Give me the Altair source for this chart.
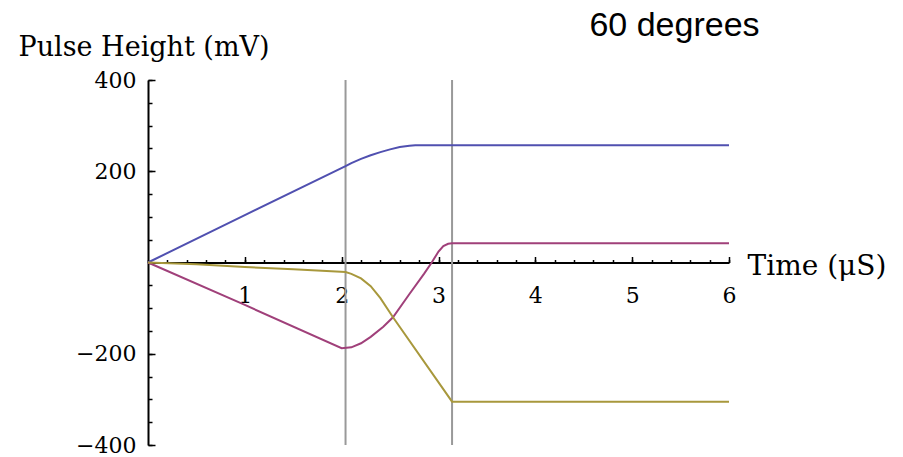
import altair as alt
import pandas as pd

# Pulse height traces (mV) against time (microseconds)
blue_t = [0, 1.0, 2.04, 2.1, 2.2, 2.3, 2.4, 2.5, 2.6, 2.7, 2.76, 3.14, 6.0]
blue_v = [0, 104, 211, 218, 227, 235, 242, 248, 253, 256, 257, 257, 257]

purple_t = [0, 1.0, 2.0, 2.1, 2.2, 2.3, 2.43, 2.53, 2.7, 2.85, 2.93, 3.0, 3.05, 3.1, 3.14, 6.0]
purple_v = [0, -93, -188, -186, -177, -163, -141, -120, -69, -25, 0, 24, 36, 41, 42, 42]

olive_t = [0, 0.5, 1.0, 1.5, 2.04, 2.1, 2.2, 2.3, 2.4, 2.53, 3.14, 6.0]
olive_v = [0, -4, -10, -15, -21, -25, -35, -52, -78, -120, -305, -305]

# Gate markers
marker_t = [2.04, 3.14]

series_names = ["A", "B", "C"]
series_colors = ["#5050b0", "#a0407a", "#a8983c"]

x_major = [1, 2, 3, 4, 5, 6]
x_minor = [round(i * 0.2, 1) for i in range(31)]
y_major = [-400, -200, 200, 400]
y_minor = list(range(-400, 401, 50))

W, H = 581, 365
serif = "DejaVu Serif"

rows = []
for name, ts, vs in zip(series_names, [blue_t, purple_t, olive_t], [blue_v, purple_v, olive_v]):
    for t, v in zip(ts, vs):
        rows.append({"series": name, "t": t, "v": v})
df = pd.DataFrame(rows)

markers = pd.DataFrame({"t": marker_t, "lo": [-400] * len(marker_t), "hi": [400] * len(marker_t)})

xscale = alt.Scale(domain=[0, 6], nice=False, zero=False)
yscale = alt.Scale(domain=[-400, 400], nice=False, zero=False)

x_main_axis = alt.Axis(
    orient="top", offset=-H / 2, values=x_major, tickSize=6, tickWidth=1.5,
    tickColor="black", domainColor="black", domainWidth=2,
    labelBaseline="top", labelPadding=-29, labelFlush=False, labelFont=serif,
    labelFontSize=22, labelColor="black", grid=False,
    title="Time (μS)", titleFont=serif, titleFontSize=28, titleFontWeight="normal",
    titleColor="black", titleAngle=0, titleAlign="left", titleBaseline="middle",
    titleX=W + 18, titleY=4,
)
y_main_axis = alt.Axis(
    orient="right", offset=-W, values=y_major, tickSize=7, tickWidth=1.5,
    tickColor="black", domainColor="black", domainWidth=2,
    labelAlign="right", labelBaseline="middle", labelPadding=-19, labelFlush=False,
    labelFont=serif, labelFontSize=22, labelColor="black", grid=False,
    title="Pulse Height (mV)", titleFont=serif, titleFontSize=27,
    titleFontWeight="normal", titleColor="black", titleAngle=0,
    titleAlign="left", titleBaseline="middle", titleX=-130, titleY=-33,
)
x_minor_axis = alt.Axis(
    orient="top", offset=-H / 2, values=x_minor, tickSize=3, tickWidth=1.5,
    tickColor="black", domain=False, labels=False, grid=False, title=None,
)
y_minor_axis = alt.Axis(
    orient="right", offset=-W, values=y_minor, tickSize=4, tickWidth=1.5,
    tickColor="black", domain=False, labels=False, grid=False, title=None,
)

gates = alt.Chart(markers).mark_rule(color="#999999", strokeWidth=2).encode(
    x=alt.X("t:Q", scale=xscale, axis=x_minor_axis),
    y=alt.Y("lo:Q", scale=yscale, axis=y_minor_axis),
    y2="hi:Q",
)

traces = alt.Chart(df).mark_line(strokeWidth=2).encode(
    x=alt.X("t:Q", scale=xscale, axis=x_main_axis),
    y=alt.Y("v:Q", scale=yscale, axis=y_main_axis),
    color=alt.Color("series:N", scale=alt.Scale(domain=series_names, range=series_colors), legend=None),
)

chart = (
    alt.layer(gates, traces)
    .resolve_axis(x="independent", y="independent")
    .properties(
        width=W,
        height=H,
        autosize=alt.AutoSizeParams(type="none"),
        padding={"left": 148, "top": 80, "right": 174, "bottom": 12},
        title=alt.TitleParams(
            "60 degrees", font="Liberation Sans", fontSize=34, fontWeight="normal",
            color="black", anchor="middle", dx=236, offset=-10,
        ),
    )
    .configure_view(stroke=None)
)

chart.save("out.html", embed_options={"renderer": "svg", "actions": False})
